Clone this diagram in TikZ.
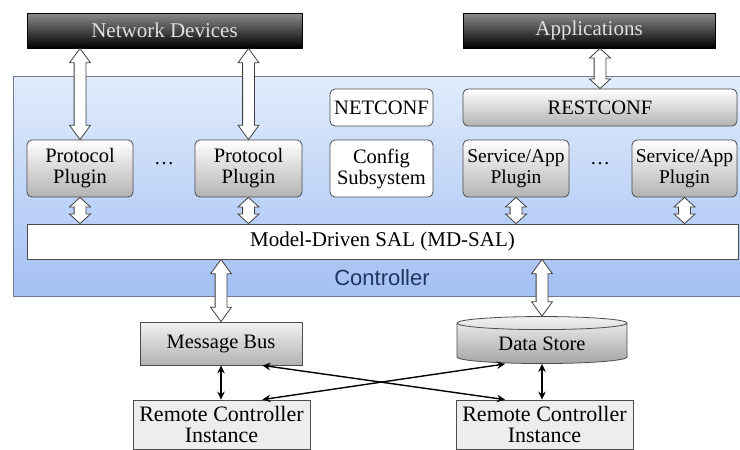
\documentclass[tikz,border=0pt]{standalone}
\usepackage{fontspec}
\setmainfont{Liberation Serif}
\newfontfamily\ctrlfont{Liberation Sans}
\usetikzlibrary{shapes.geometric,shapes.arrows,calc,arrows.meta}

\definecolor{ctrltop}{HTML}{E2ECFC}
\definecolor{ctrlbot}{HTML}{A3C0F3}
\definecolor{ctrlline}{HTML}{6C7C94}
\definecolor{ctrltext}{HTML}{1F3560}

\tikzset{
  box/.style={draw=black!70, line width=0.8pt, inner sep=0pt, align=center,
    font=\fontsize{20.5}{21}\selectfont},
  darkbox/.style={box, draw=black, top color=black!45, bottom color=black, text=black!12,
    font=\fontsize{21}{21}\selectfont},
  plugin/.style={box, rounded corners=5pt, top color=white, bottom color=black!30},
  plainbox/.style={box, rounded corners=5pt, fill=white},
  remote/.style={box, fill=black!7, font=\fontsize{22}{21}\selectfont},
  fatarr/.style={double arrow, draw=black!75, fill=white, line width=0.8pt,
    inner sep=5.5pt, double arrow head extend=4.5pt, double arrow tip angle=95, rotate=90},
  longarr/.style={double arrow tip angle=72},
  thinarr/.style={{Stealth[length=8pt,width=7.5pt]}-{Stealth[length=8pt,width=7.5pt]}, line width=1.4pt}
}

% hollow two-way arrow between two points
\newcommand{\fatlink}[3][]{%
  \path let \p1=#2, \p2=#3, \n1={veclen(\x2-\x1,\y2-\y1)} in
    node[fatarr, minimum height=\n1, #1] at ($(\p1)!0.5!(\p2)$) {};}

\begin{document}
\begin{tikzpicture}[x=1pt,y=-1pt]
  \useasboundingbox (0,0) rectangle (740,450);

  % controller area
  \draw[draw=ctrlline, line width=0.8pt, top color=ctrltop, bottom color=ctrlbot] (13,76) rectangle (746,296);
  \node[text=ctrltext, font=\ctrlfont\fontsize{22}{22}\selectfont] (ctrl) at (382,278) {Controller};

  % outside
  \node[darkbox, minimum width=275pt, minimum height=35pt] (nd) at (164.5,30.5) {Network Devices};
  \node[darkbox, minimum width=252pt, minimum height=35pt] (app) at (589,30.5) {Applications};

  % northbound
  \node[plainbox, minimum width=103pt, minimum height=37pt] (netconf) at (381.5,107.5) {NETCONF};
  \node[plugin, minimum width=274pt, minimum height=37pt] (restconf) at (600,107.5) {RESTCONF};

  % plugins
  \node[plugin, minimum width=106pt, minimum height=57pt] (pp1) at (80,168.5) {Protocol\\Plugin};
  \node[plugin, minimum width=107pt, minimum height=57pt] (pp2) at (248.5,168.5) {Protocol\\Plugin};
  \node[plainbox, minimum width=103pt, minimum height=57pt] (cfg) at (381.5,168.5) {Config\\Subsystem};
  \node[plugin, minimum width=106pt, minimum height=57pt, font=\fontsize{19.5}{21}\selectfont] (sa1) at (516,168.5) {Service/App\\Plugin};
  \node[plugin, minimum width=105pt, minimum height=57pt, font=\fontsize{19.5}{21}\selectfont] (sa2) at (684.5,168.5) {Service/App\\Plugin};
  \node[font=\fontsize{20}{20}\selectfont] (dots1) at (164,164) {\dots};
  \node[font=\fontsize{20}{20}\selectfont] (dots2) at (600,164) {\dots};

  \node[box, fill=white, minimum width=711pt, minimum height=35pt, font=\fontsize{21}{21}\selectfont] (mdsal) at (382.5,241.5) {Model-Driven SAL (MD-SAL)};

  % cluster side
  \node[box, top color=black!5, bottom color=black!30, minimum width=162pt, minimum height=43pt] (mb) at (221,343.5) {Message Bus};
  \node[box, cylinder, shape border rotate=90, aspect=0.15, top color=black!5, bottom color=black!35,
    minimum width=170pt, minimum height=47pt] (ds) at (542,343.5) {Data Store};
  \node[remote, minimum width=177pt, minimum height=49pt] (rci1) at (221.5,424.5) {Remote Controller\\Instance};
  \node[remote, minimum width=177pt, minimum height=49pt] (rci2) at (544.5,424.5) {Remote Controller\\Instance};

  % hollow arrows
  \fatlink[longarr]{(nd.south -| pp1.north)}{(pp1.north)}
  \fatlink[longarr]{(nd.south -| pp2.north)}{(pp2.north)}
  \fatlink{(app.south -| restconf.north)}{(restconf.north)}
  \fatlink{(pp1.south)}{(mdsal.north -| pp1.south)}
  \fatlink{(pp2.south)}{(mdsal.north -| pp2.south)}
  \fatlink{(sa1.south)}{(mdsal.north -| sa1.south)}
  \fatlink{(sa2.south)}{(mdsal.north -| sa2.south)}
  \fatlink[longarr]{(mdsal.south -| mb.north)}{(mb.north)}
  \fatlink[longarr]{(mdsal.south -| ds.north)}{(ds.north)}

  % black arrows
  \coordinate (mbx) at ($(mb.south east)+(-40,0)$);
  \coordinate (r1x) at ($(rci1.north east)+(-48,0)$);
  \coordinate (dsx) at ($(ds.south)+(-37,0)$);
  \coordinate (r2x) at ($(rci2.north)+(-39.5,0)$);
  \draw[thinarr] (mb.south) -- (mb.south |- rci1.north);
  \draw[thinarr] (ds.south) -- (ds.south |- rci2.north);
  \draw[thinarr] (mbx) -- (r2x);
  \draw[thinarr] (r1x) -- (dsx);
\end{tikzpicture}
\end{document}
